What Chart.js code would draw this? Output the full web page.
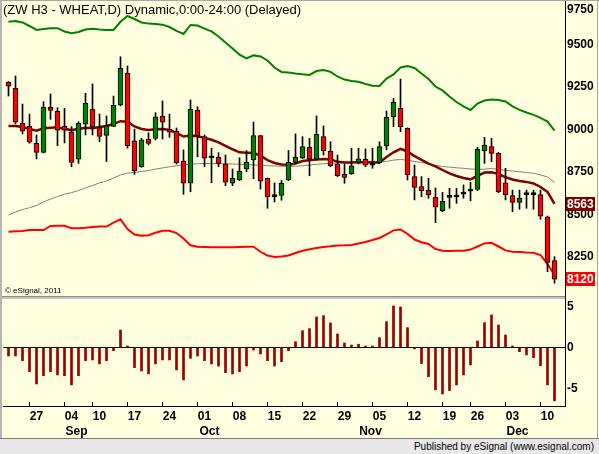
<!DOCTYPE html>
<html>
<head>
<meta charset="utf-8">
<title>ZW H3 - WHEAT</title>
<script src="https://cdn.jsdelivr.net/npm/chart.js@4.4.0/dist/chart.umd.min.js"></script>
<style>
    html, body { margin: 0; padding: 0; }
    body { width: 599px; height: 454px; background: #FFFFE0; position: relative; overflow: hidden; font-family: "Liberation Sans", Arial, sans-serif; }
    canvas { position: absolute; left: 0; }
    #priceChart { top: 0; }
    #oscChart { top: 299px; }
    .title { position: absolute; left: 3px; top: 2px; font-size: 13px; line-height: 16px; color: #000; white-space: nowrap; }
    .copy { position: absolute; left: 5px; top: 286px; font-size: 8px; line-height: 10px; color: #000; }
    .sep { position: absolute; left: 0; top: 296px; width: 565px; height: 3px; background: #C4C4C4; border-top: 1px solid #8A8A8A; box-sizing: border-box; }
    .axis-gap { position: absolute; left: 565px; top: 296px; width: 1px; height: 4px; background: #000; }
    .frame-top { position: absolute; left: 0; top: 0; width: 599px; height: 1px; background: #A8A8A8; }
    .frame-left { position: absolute; left: 0; top: 0; width: 2px; height: 439px; background: #B4B4B4; }
    .frame-right { position: absolute; left: 597px; top: 0; width: 1px; height: 439px; background: #A8A8A8; }
    .footer { position: absolute; left: 0; top: 438px; width: 599px; height: 16px; background: #E8E8E8; border-top: 1px solid #7A7A7A; box-sizing: border-box; font-size: 10px; line-height: 15px; text-align: right; padding-right: 5px; color: #000; }
</style>
</head>
<body>
<canvas id="priceChart" width="599" height="297"></canvas>
<canvas id="oscChart" width="599" height="140"></canvas>
<div class="sep"></div>
<div class="axis-gap"></div>
<div class="frame-top"></div>
<div class="frame-left"></div>
<div class="frame-right"></div>
<div class="title">(ZW H3 - WHEAT,D) Dynamic,0:00-24:00 (Delayed)</div>
<div class="copy">© eSignal, 2011</div>
<div class="footer">Published by eSignal (www.esignal.com)</div>

<script>
// === ДАННЫЕ ===
const dates = [
    '08-21','08-22','08-23','08-24','08-27','08-28','08-29','08-30','08-31',
    '09-04','09-05','09-06','09-07','09-10','09-11','09-12','09-13','09-14',
    '09-17','09-18','09-19','09-20','09-21','09-24','09-25','09-26','09-27','09-28',
    '10-01','10-02','10-03','10-04','10-05','10-08','10-09','10-10','10-11','10-12',
    '10-15','10-16','10-17','10-18','10-19','10-22','10-23','10-24','10-25','10-26',
    '10-29','10-30','10-31','11-01','11-02','11-05','11-06','11-07','11-08','11-09',
    '11-12','11-13','11-14','11-15','11-16','11-19','11-20','11-21','11-23',
    '11-26','11-27','11-28','11-29','11-30','12-03','12-04','12-05','12-06','12-07',
    '12-10','12-11'
];
const monthNames = ['Sep', 'Oct', 'Nov', 'Dec'];

const opens = [9278,9243,9037,9019,8919,8866,9131,9107,9019,8987,8825,9031,9119,9011,8966,9019,9144,9331,8933,8781,
    8944,8948,9078,9003,8991,8815,8684,9115,8958,8835,8837,8797,8684,8703,8768,8821,8964,8713,8607,8613,
    8703,8807,8831,8896,8825,8958,8874,8796,8737,8739,8807,8825,8792,8805,8903,9075,9125,9007,8723,8664,
    8643,8601,8523,8601,8603,8621,8638,8648,8874,8899,8860,8687,8611,8572,8617,8618,8617,8487,8229];
const highs = [9282,9315,9150,9091,8968,9164,9209,9128,9125,9017,9046,9213,9268,9091,9080,9197,9428,9374,9003,8948,
    8981,9099,9168,9091,9009,8880,9174,9134,8968,8890,8864,8850,8768,8834,8876,9044,8966,8715,8686,8700,
    8877,8974,8958,8948,9080,9021,8928,8850,8796,8890,8890,8886,8890,8928,9109,9184,9297,9010,8791,8723,
    8713,8656,8631,8654,8654,8674,8690,8896,8954,8948,8866,8772,8644,8644,8644,8644,8644,8491,8252];
const lows = [9197,9033,8974,8919,8827,8862,9060,8905,8921,8781,8801,8968,8968,8928,8811,9017,9140,8890,8737,8778,
    8909,8938,8944,8954,8797,8619,8634,8840,8781,8687,8781,8670,8670,8699,8752,8711,8650,8537,8574,8584,
    8699,8803,8830,8728,8821,8850,8781,8723,8684,8736,8797,8781,8772,8801,8880,9017,8987,8703,8586,8605,
    8596,8452,8517,8537,8566,8596,8581,8640,8801,8811,8628,8586,8517,8531,8537,8531,8472,8164,8096];
const closes = [9255,9043,8990,8925,8866,9131,9113,8996,8996,8807,9037,9154,9017,8960,9023,9143,9360,8905,8758,8939,
    8919,9075,9043,8984,8803,8684,9119,8964,8831,8833,8801,8690,8713,8756,8807,8964,8697,8605,8605,8684,
    8807,8837,8899,8825,8972,8874,8787,8729,8719,8787,8827,8791,8790,8899,9072,9160,9017,8733,8660,8640,
    8617,8543,8578,8602,8604,8620,8639,8884,8909,8860,8634,8615,8572,8596,8619,8617,8491,8219,8120];

// верхняя (зелёная) и нижняя (красная) полосы
const upperBand = [9634,9638,9630,9609,9586,9591,9596,9596,9577,9566,9574,9588,9593,9588,9586,9586,9634,9668,9650,9630,
    9623,9621,9617,9603,9580,9562,9615,9612,9594,9577,9547,9512,9477,9441,9418,9436,9430,9406,9365,9339,
    9336,9330,9325,9321,9344,9350,9339,9312,9294,9286,9281,9268,9257,9256,9300,9324,9365,9374,9362,9330,
    9297,9253,9230,9194,9162,9136,9115,9153,9171,9177,9174,9165,9136,9116,9100,9086,9069,9047,8993];
const lowerBand = [8399,8401,8403,8409,8409,8409,8433,8434,8434,8419,8419,8422,8427,8429,8429,8453,8472,8415,8383,8376,
    8378,8393,8405,8405,8391,8359,8319,8311,8309,8307,8307,8307,8307,8309,8311,8311,8281,8259,8250,8253,
    8259,8274,8287,8296,8303,8309,8313,8318,8319,8321,8330,8339,8350,8362,8383,8407,8412,8386,8353,8337,
    8327,8297,8287,8286,8287,8287,8294,8312,8330,8334,8312,8289,8281,8280,8277,8275,8262,8209,8144];
// средние линии: тёмно-красная и серая
const midLine = [9021,9021,9015,9004,8993,9008,9011,9013,9003,8997,9003,9011,9008,9015,9021,9033,9049,9046,9018,9003,
    8997,9002,9003,8997,8980,8959,8965,8961,8951,8940,8924,8904,8884,8866,8864,8862,8847,8820,8803,8794,
    8793,8800,8815,8820,8823,8827,8825,8810,8806,8806,8807,8807,8806,8806,8839,8866,8886,8871,8844,8821,
    8800,8783,8762,8742,8727,8715,8707,8727,8747,8749,8739,8719,8706,8697,8692,8683,8662,8633,8563];
const slowLine = [8497,8515,8530,8540,8553,8574,8591,8606,8620,8629,8641,8656,8671,8686,8697,8715,8733,8744,8747,8753,
    8759,8767,8774,8781,8787,8793,8796,8799,8800,8800,8800,8799,8797,8796,8794,8792,8790,8787,8786,8784,
    8784,8784,8787,8791,8795,8799,8801,8803,8805,8807,8808,8808,8809,8811,8812,8820,8824,8820,8812,8806,
    8797,8789,8783,8779,8775,8772,8768,8765,8767,8771,8765,8760,8756,8752,8747,8743,8733,8721,8689];

// осциллятор (нижняя панель)
const oscValues = [-1.06,-1.06,-1.63,-2.97,-4.47,-3.46,-2.97,-3.37,-3.46,-4.59,-3.46,-1.63,-1.54,-2.03,-1.63,-0.41,2.11,0.16,-2.48,-2.89,
    -3.25,-2.03,-1.54,-1.54,-2.76,-3.98,-1.34,-1.06,-1.63,-2.03,-2.28,-3.09,-3.25,-2.97,-2.28,-0.33,-0.81,-1.63,-2.28,-1.75,
    -0.41,0.69,2.03,2.28,3.70,3.86,2.97,1.63,0.53,0.28,0.37,0.16,0.16,1.18,3.13,5.04,4.92,2.40,-0.20,-1.99,
    -3.58,-5.20,-5.69,-5.28,-4.59,-3.37,-2.15,0.77,3.01,3.94,2.72,1.50,0.16,-0.53,-0.93,-1.26,-2.24,-4.59,-6.54];

const priceTicks = [8250, 8500, 8750, 9000, 9250, 9500, 9750];
const oscTicks = [-5, 0, 5];

// === ВСПОМОГАТЕЛЬНОЕ ===
const FONT = '"Liberation Sans", Arial, sans-serif';
Chart.defaults.font.family = FONT;

const weekDay = d => new Date(2012, +d.slice(0, 2) - 1, +d.slice(3)).getDay();
const idx = dates.map((d, i) => i);
const weekStarts = idx.filter(i => i > 0 && weekDay(dates[i]) < weekDay(dates[i - 1]));
const monthStarts = idx.filter(i => i > 0 && dates[i].slice(0, 2) !== dates[i - 1].slice(0, 2));

const pts = arr => arr.map((v, i) => ({ x: i, y: v }));
const candleColor = i => Math.abs(closes[i] - opens[i]) <= 3 ? '#000000' : (closes[i] > opens[i] ? '#008000' : '#FF0000');

// шкала X одинаковая для обеих панелей: 7 px на бар
const X_MIN = -0.7857, X_MAX = 79.5;
const PAD = { left: 3, right: 2, top: 1, bottom: 0 };

// убираем отступы, которые Chart.js добавляет под крайние подписи
const noPad = s => { s.paddingTop = 0; s.paddingBottom = 0; s.paddingLeft = 0; s.paddingRight = 0; };

const lineSet = (arr, color, width, order) => ({
    type: 'line', data: pts(arr), borderColor: color, borderWidth: width,
    pointRadius: 0, tension: 0, fill: false, order
});

// метки цены справа + верхняя подпись
const priceTags = {
    id: 'priceTags',
    afterDraw(chart) {
        const { ctx } = chart;
        const y = chart.scales.y;
        ctx.save();
        ctx.font = 'bold 12px ' + FONT;
        ctx.textAlign = 'left';
        ctx.textBaseline = 'middle';
        ctx.fillStyle = '#000';
        ctx.fillText('9750', 567, 10);
        const tag = (val, bg) => {
            const py = y.getPixelForValue(val);
            ctx.fillStyle = bg;
            ctx.fillRect(566, Math.round(py) - 7, 29, 14);
            ctx.fillStyle = '#FFFFFF';
            ctx.fillText(String(val), 567, py + 0.5);
        };
        tag(midLine[midLine.length - 1], '#800000');
        tag(closes[closes.length - 1], '#FF0000');
        ctx.restore();
    }
};

// засечки и месяцы под осью времени
const timeExtras = {
    id: 'timeExtras',
    afterDraw(chart) {
        const { ctx, chartArea } = chart;
        const x = chart.scales.x;
        ctx.save();
        ctx.strokeStyle = '#000';
        ctx.lineWidth = 1;
        weekStarts.forEach(i => {
            const px = Math.round(x.getPixelForValue(i - 1)) + 0.5;
            ctx.beginPath();
            ctx.moveTo(px, chartArea.bottom - 4);
            ctx.lineTo(px, chartArea.bottom);
            ctx.stroke();
        });
        ctx.font = 'bold 12px ' + FONT;
        ctx.fillStyle = '#000';
        ctx.textAlign = 'center';
        ctx.textBaseline = 'middle';
        monthStarts.forEach((i, k) => {
            ctx.fillText(monthNames[k], x.getPixelForValue(i) + 5, chartArea.bottom + 26);
        });
        ctx.restore();
    }
};

// === ЦЕНОВАЯ ПАНЕЛЬ ===
new Chart(document.getElementById('priceChart'), {
    type: 'bar',
    data: {
        datasets: [
            lineSet(upperBand, '#008000', 2, 6),
            lineSet(lowerBand, '#FF0000', 2, 6),
            lineSet(slowLine, '#808080', 1, 6),
            lineSet(midLine, '#800000', 2.5, 5),
            {
                data: idx.map(i => ({ x: i, y: [lows[i], highs[i]] })),
                backgroundColor: '#000000', barThickness: 1, grouped: false, order: 3
            },
            {
                data: idx.map(i => ({ x: i, y: [opens[i], closes[i]] })),
                backgroundColor: c => candleColor(c.dataIndex),
                borderColor: '#000000', borderWidth: 1, borderSkipped: false,
                barThickness: 5, minBarLength: 2, grouped: false, order: 2
            }
        ]
    },
    options: {
        responsive: false,
        animation: false,
        layout: { padding: PAD, autoPadding: false },
        plugins: { legend: { display: false }, tooltip: { enabled: false } },
        scales: {
            x: { type: 'linear', display: false, offset: false, min: X_MIN, max: X_MAX },
            y: {
                position: 'right', min: 8015, max: 9756,
                afterBuildTicks: s => { s.ticks = priceTicks.map(v => ({ value: v })); },
                afterFit: s => { s.width = 32; noPad(s); },
                grid: { drawOnChartArea: false, drawTicks: false },
                border: { display: true, color: '#000' },
                ticks: {
                    padding: 2, color: '#000', font: { size: 12, weight: 'bold' },
                    callback: v => v === 9750 ? '' : String(v)
                }
            }
        }
    },
    plugins: [priceTags]
});

// === НИЖНЯЯ ПАНЕЛЬ ===
new Chart(document.getElementById('oscChart'), {
    type: 'bar',
    data: {
        datasets: [{
            data: pts(oscValues), backgroundColor: '#990000', barThickness: 2
        }]
    },
    options: {
        responsive: false,
        animation: false,
        layout: { padding: PAD, autoPadding: false },
        plugins: { legend: { display: false }, tooltip: { enabled: false } },
        scales: {
            x: {
                type: 'linear', offset: false, min: X_MIN, max: X_MAX,
                afterBuildTicks: s => { s.ticks = weekStarts.map(i => ({ value: i })); },
                afterFit: s => { s.height = 33; noPad(s); },
                grid: { drawOnChartArea: false, drawTicks: false },
                border: { display: true, color: '#000' },
                ticks: {
                    autoSkip: false, maxRotation: 0, padding: 3, color: '#000',
                    font: { size: 12, weight: 'bold' },
                    callback: v => dates[v] ? dates[v].slice(3) : ''
                }
            },
            y: {
                position: 'right', min: -7.16, max: 5.77,
                afterBuildTicks: s => { s.ticks = oscTicks.map(v => ({ value: v })); },
                afterFit: s => { s.width = 32; noPad(s); },
                grid: {
                    drawTicks: false,
                    color: c => (c.tick && c.tick.value === 0) ? '#000000' : 'rgba(0,0,0,0)'
                },
                border: { display: true, color: '#000' },
                ticks: {
                    padding: 2, color: '#000', font: { size: 12, weight: 'bold' },
                    callback: v => String(v)
                }
            }
        }
    },
    plugins: [timeExtras]
});
</script>
</body>
</html>
